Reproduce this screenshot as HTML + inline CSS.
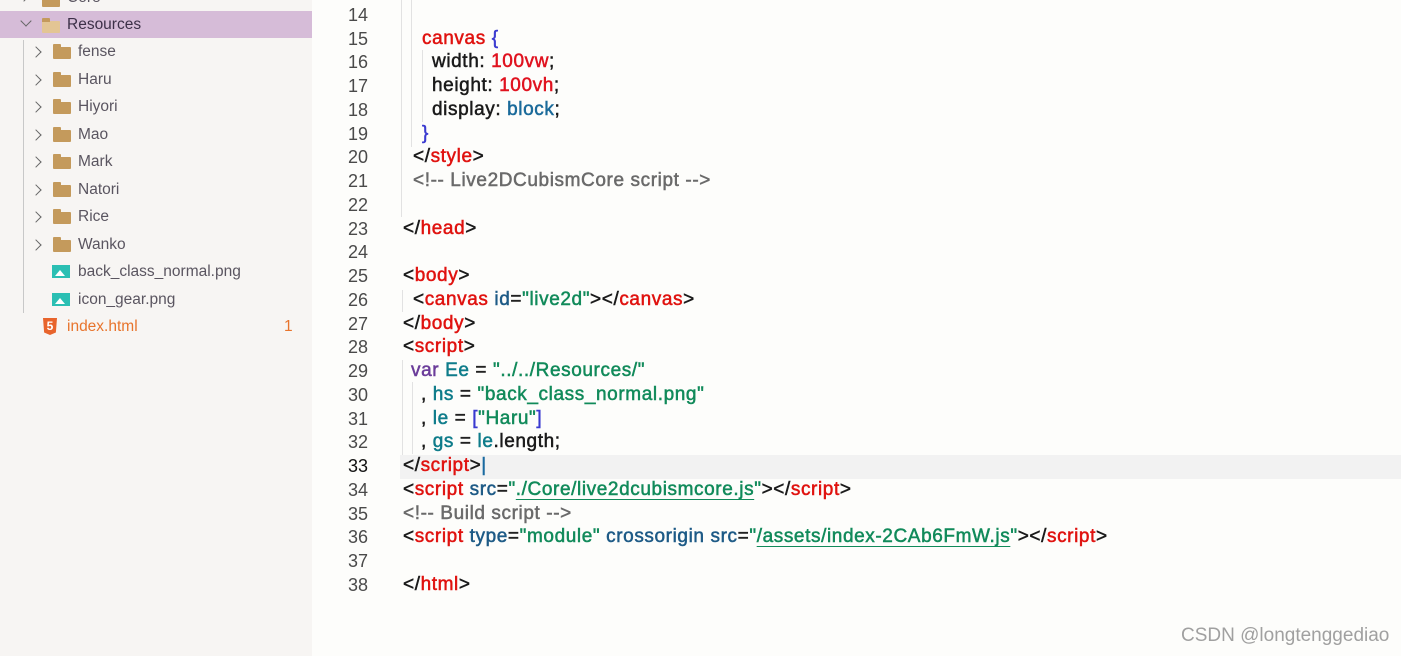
<!DOCTYPE html>
<html><head><meta charset="utf-8"><style>
body{margin:0;width:1401px;height:656px;overflow:hidden;background:#fdfdfb;position:relative;font-family:"Liberation Sans",sans-serif;}
#side{position:absolute;left:0;top:0;width:312px;height:656px;background:#f7f5f3;}
.sel{position:absolute;left:0;top:11px;width:312px;height:27px;background:#d6bcd8;}
.si{position:absolute;font-size:15.5px;color:#5a5560;line-height:20px;}
.chev{position:absolute;width:7px;height:7px;border-right:1.5px solid #666;border-bottom:1.5px solid #666;transform:rotate(-45deg);}
.chev.d{transform:rotate(45deg);}
.fold{position:absolute;width:18px;height:12px;background:#c49a5c;border-radius:1px;}
.fold:before{content:"";position:absolute;left:0;top:-3px;width:8px;height:4px;background:#c49a5c;border-radius:1px 1px 0 0;}
.img{position:absolute;width:18px;height:13px;background:#2bbfb3;}
.img:after{content:"";position:absolute;left:3px;bottom:2px;border-left:5px solid transparent;border-right:5px solid transparent;border-bottom:6px solid #fff;}
.guide{position:absolute;left:23px;top:40px;width:1px;height:273px;background:#c8c8c8;}
.ln{position:absolute;left:320px;width:48px;text-align:right;font-size:18px;color:#4a4a4a;line-height:24px;}
.cd{position:absolute;font-size:19px;letter-spacing:0.6px;line-height:24px;white-space:pre;color:#1a1a1a;-webkit-text-stroke:0.5px currentColor;}
.t{color:#e0120f}.p{color:#2b2b2b}.a{color:#1d5a86}.s{color:#118a5a}.c{color:#6a6a6a}.v{color:#6b3d9a}.i{color:#0e7c8a}.b{color:#3a3ad0}.n{color:#e0121f}.k{color:#1a6a9a}
.u{text-decoration:underline;text-decoration-color:#118a5a;text-underline-offset:4px}
.vg{position:absolute;width:1px;background:#e2e2e2;}
</style></head><body>
<div id="side">
<div class="sel"></div>
<div class="chev" style="left:20px;top:-8px"></div><div class="fold" style="left:42px;top:-5px"></div><div class="si" style="left:67px;top:-12px">Core</div>
<div class="chev d" style="left:22px;top:17px"></div><div class="fold" style="left:42px;top:21px;background:#e3c594"></div><div class="si" style="left:67px;top:15px;color:#3c3048">Resources</div>
<div class="guide"></div>
<div class="chev" style="left:32px;top:48px"></div><div class="fold" style="left:53px;top:47px"></div><div class="si" style="left:78px;top:42px">fense</div>
<div class="chev" style="left:32px;top:76px"></div><div class="fold" style="left:53px;top:75px"></div><div class="si" style="left:78px;top:70px">Haru</div>
<div class="chev" style="left:32px;top:103px"></div><div class="fold" style="left:53px;top:102px"></div><div class="si" style="left:78px;top:97px">Hiyori</div>
<div class="chev" style="left:32px;top:131px"></div><div class="fold" style="left:53px;top:130px"></div><div class="si" style="left:78px;top:125px">Mao</div>
<div class="chev" style="left:32px;top:158px"></div><div class="fold" style="left:53px;top:157px"></div><div class="si" style="left:78px;top:152px">Mark</div>
<div class="chev" style="left:32px;top:186px"></div><div class="fold" style="left:53px;top:185px"></div><div class="si" style="left:78px;top:180px">Natori</div>
<div class="chev" style="left:32px;top:213px"></div><div class="fold" style="left:53px;top:212px"></div><div class="si" style="left:78px;top:207px">Rice</div>
<div class="chev" style="left:32px;top:241px"></div><div class="fold" style="left:53px;top:240px"></div><div class="si" style="left:78px;top:235px">Wanko</div>
<div class="img" style="left:52px;top:265px"></div><div class="si" style="left:78px;top:262px">back_class_normal.png</div>
<div class="img" style="left:52px;top:293px"></div><div class="si" style="left:78px;top:290px">icon_gear.png</div>
<div style="position:absolute;left:43px;top:318px;width:14px;height:17px;background:#e8642c;clip-path:polygon(0 0,100% 0,92% 85%,50% 100%,8% 85%);color:#fff;font-size:12px;font-weight:bold;text-align:center;line-height:17px">5</div><div class="si" style="left:67px;top:317px;color:#e8742c">index.html</div>
<div class="si" style="left:284px;top:317px;color:#e8742c">1</div>
</div>
<div style="position:absolute;left:400px;top:455px;width:1001px;height:24px;background:#f2f2f2"></div>
<div class="vg" style="left:401px;top:0;height:217px"></div>
<div class="vg" style="left:411px;top:0;height:147px"></div>
<div class="vg" style="left:422px;top:50px;height:72px"></div>
<div class="vg" style="left:402px;top:290px;height:22px"></div>
<div class="vg" style="left:402px;top:360px;height:95px"></div>
<div class="vg" style="left:412px;top:382px;height:72px"></div>

<div class="ln" style="top:3px">14</div>
<div class="ln" style="top:27px">15</div><div class="cd" style="left:422px;top:27px"><span class="t">canvas</span> <span class="b">{</span></div>
<div class="ln" style="top:50px">16</div><div class="cd" style="left:432px;top:50px">width: <span class="n">100vw</span>;</div>
<div class="ln" style="top:74px">17</div><div class="cd" style="left:432px;top:74px">height: <span class="n">100vh</span>;</div>
<div class="ln" style="top:98px">18</div><div class="cd" style="left:432px;top:98px">display: <span class="k">block</span>;</div>
<div class="ln" style="top:122px">19</div><div class="cd" style="left:422px;top:122px"><span class="b">}</span></div>
<div class="ln" style="top:145px">20</div><div class="cd" style="left:413px;top:145px">&lt;/<span class="t">style</span>&gt;</div>
<div class="ln" style="top:169px">21</div><div class="cd c" style="left:413px;top:169px">&lt;!-- Live2DCubismCore script --&gt;</div>
<div class="ln" style="top:193px">22</div>
<div class="ln" style="top:217px">23</div><div class="cd" style="left:403px;top:217px">&lt;/<span class="t">head</span>&gt;</div>
<div class="ln" style="top:240px">24</div>
<div class="ln" style="top:264px">25</div><div class="cd" style="left:403px;top:264px">&lt;<span class="t">body</span>&gt;</div>
<div class="ln" style="top:288px">26</div><div class="cd" style="left:413px;top:288px">&lt;<span class="t">canvas</span> <span class="a">id</span>=<span class="s">"live2d"</span>&gt;&lt;/<span class="t">canvas</span>&gt;</div>
<div class="ln" style="top:312px">27</div><div class="cd" style="left:403px;top:312px">&lt;/<span class="t">body</span>&gt;</div>
<div class="ln" style="top:335px">28</div><div class="cd" style="left:403px;top:335px">&lt;<span class="t">script</span>&gt;</div>
<div class="ln" style="top:359px">29</div><div class="cd" style="left:411px;top:359px"><span class="v">var</span> <span class="i">Ee</span> = <span class="s">"../../Resources/"</span></div>
<div class="ln" style="top:383px">30</div><div class="cd" style="left:421px;top:383px">, <span class="i">hs</span> = <span class="s">"back_class_normal.png"</span></div>
<div class="ln" style="top:407px">31</div><div class="cd" style="left:421px;top:407px">, <span class="i">le</span> = <span class="b">[</span><span class="s">"Haru"</span><span class="b">]</span></div>
<div class="ln" style="top:430px">32</div><div class="cd" style="left:421px;top:430px">, <span class="i">gs</span> = <span class="i">le</span>.length;</div>
<div class="ln" style="top:454px;color:#111">33</div><div class="cd" style="left:403px;top:454px">&lt;/<span class="t">script</span>&gt;<span style="color:#1a6aa0">|</span></div>
<div class="ln" style="top:478px">34</div><div class="cd" style="left:403px;top:478px">&lt;<span class="t">script</span> <span class="a">src</span>=<span class="s">"<span class="u">./Core/live2dcubismcore.js</span>"</span>&gt;&lt;/<span class="t">script</span>&gt;</div>
<div class="ln" style="top:502px">35</div><div class="cd c" style="left:403px;top:502px">&lt;!-- Build script --&gt;</div>
<div class="ln" style="top:525px">36</div><div class="cd" style="left:403px;top:525px">&lt;<span class="t">script</span> <span class="a">type</span>=<span class="s">"module"</span> <span class="a">crossorigin</span> <span class="a">src</span>=<span class="s">"<span class="u">/assets/index-2CAb6FmW.js</span>"</span>&gt;&lt;/<span class="t">script</span>&gt;</div>
<div class="ln" style="top:549px">37</div>
<div class="ln" style="top:573px">38</div><div class="cd" style="left:403px;top:573px">&lt;/<span class="t">html</span>&gt;</div>
<div style="position:absolute;left:1181px;top:625px;font-size:19px;color:#a0a0a0">CSDN @longtenggediao</div>
</body></html>
